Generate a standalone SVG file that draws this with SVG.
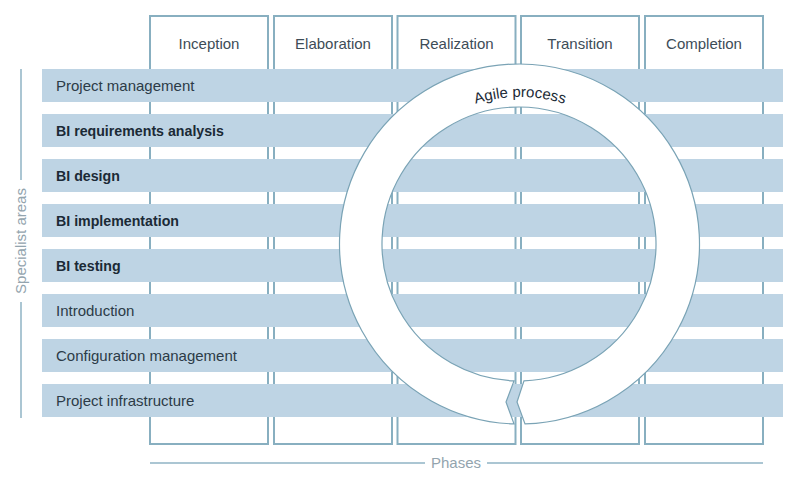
<svg xmlns="http://www.w3.org/2000/svg" width="800" height="492" viewBox="0 0 800 492">
<style>
.col{fill:#fff;stroke:#88afc0;stroke-width:2}
.row{fill:#bed4e4}
.hd{font-family:"Liberation Sans",Arial,sans-serif;font-size:15px;fill:#3d4c57;text-anchor:middle}
.lb{font-family:"Liberation Sans",Arial,sans-serif;font-size:15px;fill:#2c3b47}
.lbb{font-family:"Liberation Sans",Arial,sans-serif;font-size:14.2px;fill:#1b2a36;font-weight:bold}
.ax{font-family:"Liberation Sans",Arial,sans-serif;font-size:15px;fill:#93a4ae}
.axl{stroke:#8fb3c4;stroke-width:1.5;fill:none}
</style>
<rect width="800" height="492" fill="#fff"/>
<g id="phases">
<g id="col-inception"><rect class="col" x="150" y="16" width="118" height="428"/><text class="hd" x="209" y="49">Inception</text></g>
<g id="col-elaboration"><rect class="col" x="274" y="16" width="118" height="428"/><text class="hd" x="333" y="49">Elaboration</text></g>
<g id="col-realization"><rect class="col" x="397.5" y="16" width="118" height="428"/><text class="hd" x="456.5" y="49">Realization</text></g>
<g id="col-transition"><rect class="col" x="521" y="16" width="118" height="428"/><text class="hd" x="580" y="49">Transition</text></g>
<g id="col-completion"><rect class="col" x="645" y="16" width="118" height="428"/><text class="hd" x="704" y="49">Completion</text></g>
</g>
<g id="rows">
<g id="row-pm"><rect class="row" x="42" y="69" width="741" height="33"/><text class="lb" x="56" y="91">Project management</text></g>
<g id="row-bireq"><rect class="row" x="42" y="114" width="741" height="33"/><text class="lbb" x="56" y="136">BI requirements analysis</text></g>
<g id="row-bidesign"><rect class="row" x="42" y="159" width="741" height="33"/><text class="lbb" x="56" y="181">BI design</text></g>
<g id="row-biimpl"><rect class="row" x="42" y="204" width="741" height="33"/><text class="lbb" x="56" y="226">BI implementation</text></g>
<g id="row-bitest"><rect class="row" x="42" y="249" width="741" height="33"/><text class="lbb" x="56" y="271">BI testing</text></g>
<g id="row-intro"><rect class="row" x="42" y="294" width="741" height="33"/><text class="lb" x="56" y="316">Introduction</text></g>
<g id="row-config"><rect class="row" x="42" y="339" width="741" height="33"/><text class="lb" x="56" y="361">Configuration management</text></g>
<g id="row-infra"><rect class="row" x="42" y="384" width="741" height="33"/><text class="lb" x="56" y="406">Project infrastructure</text></g>
</g>
<g id="agile">
<path d="M514,423.9 A180,180 0 1 1 525,423.9 L517,402 L524,380.9 A137,137 0 1 0 514,380.9 L506,402 Z" fill="#fff" stroke="#7aa3b5" stroke-width="1.2"/>
<path id="arc" d="M373,244 A147,147 0 0 1 667,244" fill="none"/>
<text font-family="'Liberation Sans',Arial,sans-serif" font-size="15" fill="#1b2a36"><textPath href="#arc" startOffset="50%" text-anchor="middle">Agile process</textPath></text>
</g>
<g id="axes">
<line class="axl" x1="21" y1="69" x2="21" y2="180"/>
<line class="axl" x1="21" y1="302" x2="21" y2="418"/>
<text class="ax" transform="translate(26,241) rotate(-90)" text-anchor="middle">Specialist areas</text>
<line class="axl" x1="150" y1="463" x2="425" y2="463"/>
<line class="axl" x1="487" y1="463" x2="763" y2="463"/>
<text class="ax" x="456" y="468" text-anchor="middle">Phases</text>
</g>
</svg>
